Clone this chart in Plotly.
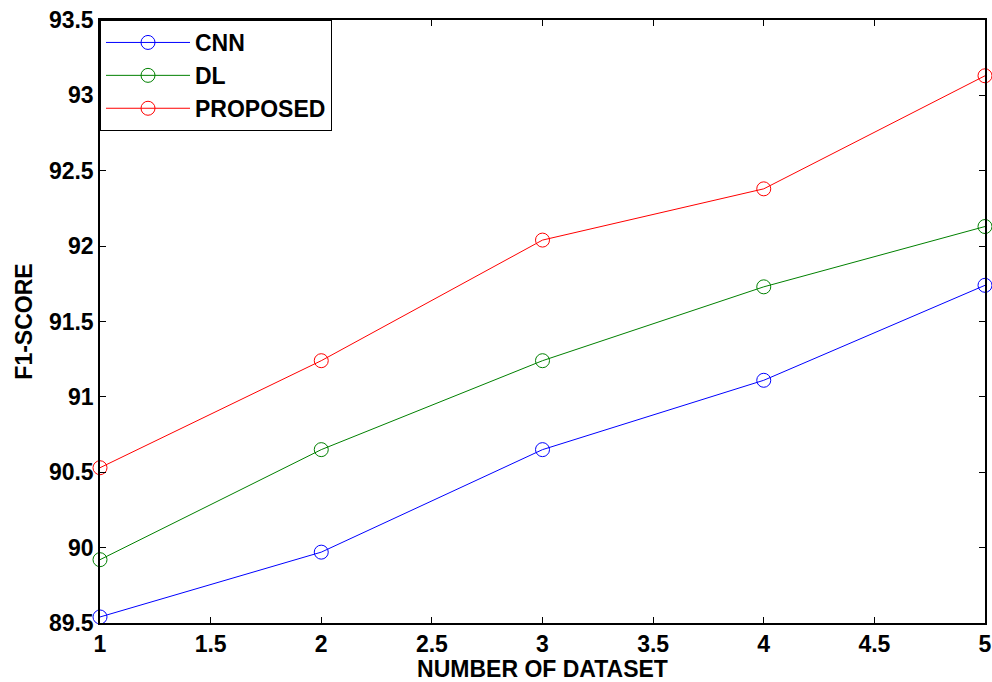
import plotly.graph_objects as go

datasets = [1, 2, 3, 4, 5]
cnn = [89.54, 89.97, 90.65, 91.11, 91.74]
dl = [89.92, 90.65, 91.24, 91.73, 92.13]
proposed = [90.53, 91.24, 92.04, 92.38, 93.13]

series = [("CNN", cnn, "#0000FF"), ("DL", dl, "#008000"), ("PROPOSED", proposed, "#FF0000")]

fig = go.Figure()
for name, vals, col in series:
    fig.add_trace(go.Scatter(
        x=datasets, y=vals, name=name, mode="lines+markers",
        line=dict(color=col, width=1),
        marker=dict(symbol="circle-open", size=14, color=col, line=dict(width=1, color=col)),
        cliponaxis=False,
    ))

FAM = "Liberation Sans, Arial, sans-serif"
axis_common = dict(
    showgrid=False, zeroline=False, showline=True, linecolor="black", linewidth=1.5,
    mirror="ticks", ticks="inside", ticklen=6, tickcolor="black", tickwidth=1,
    tickfont=dict(family=FAM, size=23, color="black", weight="bold"),
    automargin=False,
)
fig.update_layout(
    width=992, height=682,
    margin=dict(l=100, r=7, t=20, b=59),
    paper_bgcolor="white", plot_bgcolor="white",
    font=dict(family=FAM, size=23, color="black"),
    xaxis=dict(range=[1, 5], dtick=0.5, tick0=1,
               title=dict(text="<b>NUMBER OF DATASET</b>", standoff=2,
                          font=dict(family=FAM, size=23, color="black")),
               **axis_common),
    yaxis=dict(range=[89.5, 93.5], dtick=0.5, tick0=89.5,
               title=dict(text="<b>F1-SCORE</b>", standoff=10,
                          font=dict(family=FAM, size=23, color="black")),
               **axis_common),
    legend=dict(x=0, y=1, xanchor="left", yanchor="top", bgcolor="white",
                bordercolor="black", borderwidth=1,
                font=dict(family=FAM, size=23, color="black", weight="bold"),
                itemwidth=84, tracegroupgap=0),
    showlegend=True,
)
fig.write_html("out.html", config={"displayModeBar": False},
               post_script="document.body.style.margin='0';document.body.style.overflow='hidden';")
